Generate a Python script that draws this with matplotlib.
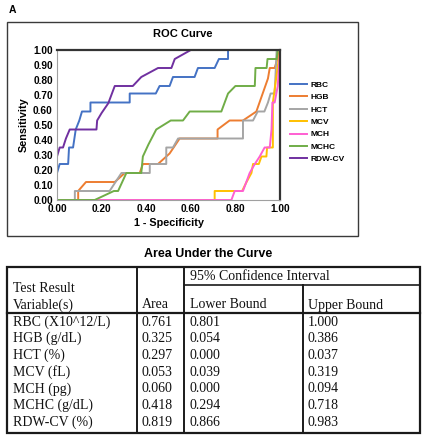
import matplotlib
matplotlib.use("Agg")
import matplotlib.pyplot as plt
from matplotlib.patches import Rectangle

# ROC curve points (1 - specificity, sensitivity)
rbc_x = [0, 0, 0.012, 0.05, 0.054, 0.072, 0.084, 0.10, 0.112, 0.15, 0.15, 0.326, 0.326, 0.443, 0.46, 0.505, 0.52, 0.617, 0.632, 0.707, 0.726, 0.767, 0.767, 1.0]
rbc_y = [0, 0.18, 0.24, 0.24, 0.35, 0.35, 0.47, 0.53, 0.59, 0.59, 0.65, 0.65, 0.71, 0.71, 0.76, 0.76, 0.82, 0.82, 0.88, 0.88, 0.94, 0.94, 1.0, 1.0]

hgb_x = [0, 0.095, 0.095, 0.13, 0.259, 0.304, 0.371, 0.385, 0.453, 0.505, 0.55, 0.72, 0.72, 0.774, 0.834, 0.894, 0.946, 0.954, 0.976, 1.0]
hgb_y = [0, 0, 0.06, 0.12, 0.12, 0.18, 0.18, 0.24, 0.24, 0.31, 0.41, 0.41, 0.47, 0.53, 0.53, 0.59, 0.81, 0.88, 0.88, 1.0]

hct_x = [0, 0.08, 0.08, 0.236, 0.289, 0.416, 0.416, 0.49, 0.49, 0.52, 0.543, 0.834, 0.834, 0.879, 0.90, 0.93, 0.946, 0.958, 0.976, 0.985, 1.0]
hct_y = [0, 0, 0.06, 0.06, 0.18, 0.18, 0.24, 0.24, 0.35, 0.35, 0.41, 0.41, 0.53, 0.53, 0.59, 0.59, 0.65, 0.71, 0.71, 1.0, 1.0]

mcv_x = [0, 0.707, 0.707, 0.83, 0.85, 0.872, 0.879, 0.905, 0.917, 0.939, 0.942, 0.968, 0.968, 1.0]
mcv_y = [0, 0, 0.06, 0.06, 0.12, 0.18, 0.24, 0.24, 0.29, 0.29, 0.35, 0.35, 0.65, 1.0]

mch_x = [0, 0.782, 0.797, 0.834, 0.864, 0.887, 0.909, 0.931, 0.954, 0.962, 0.966, 0.976, 0.99, 1.0]
mch_y = [0, 0, 0.06, 0.06, 0.18, 0.24, 0.29, 0.35, 0.35, 0.47, 0.65, 0.65, 0.76, 1.0]

mchc_x = [0, 0.169, 0.255, 0.274, 0.311, 0.378, 0.385, 0.41, 0.445, 0.51, 0.565, 0.595, 0.737, 0.767, 0.80, 0.887, 0.89, 0.94, 0.944, 0.985, 0.99, 1.0]
mchc_y = [0, 0, 0.06, 0.06, 0.18, 0.18, 0.29, 0.37, 0.47, 0.53, 0.53, 0.59, 0.59, 0.71, 0.76, 0.76, 0.88, 0.88, 0.94, 0.94, 1.0, 1.0]

rdw_x = [0, 0, 0.012, 0.027, 0.04, 0.057, 0.177, 0.18, 0.20, 0.23, 0.259, 0.34, 0.378, 0.453, 0.513, 0.528, 0.60, 1.0]
rdw_y = [0, 0.29, 0.35, 0.35, 0.41, 0.47, 0.47, 0.53, 0.58, 0.645, 0.76, 0.76, 0.82, 0.88, 0.88, 0.94, 1.0, 1.0]

names = ['RBC', 'HGB', 'HCT', 'MCV', 'MCH', 'MCHC', 'RDW-CV']
colors = ['#4472C4', '#ED7D31', '#A5A5A5', '#FFC000', '#FF5FD2', '#70AD47', '#7030A0']
curves = [(rbc_x, rbc_y), (hgb_x, hgb_y), (hct_x, hct_y), (mcv_x, mcv_y),
          (mch_x, mch_y), (mchc_x, mchc_y), (rdw_x, rdw_y)]

# AUC table
variables = ['RBC (X10^12/L)', 'HGB (g/dL)', 'HCT (%)', 'MCV (fL)', 'MCH (pg)', 'MCHC (g/dL)', 'RDW-CV (%)']
area = ['0.761', '0.325', '0.297', '0.053', '0.060', '0.418', '0.819']
lower = ['0.801', '0.054', '0.000', '0.039', '0.000', '0.294', '0.866']
upper = ['1.000', '0.386', '0.037', '0.319', '0.094', '0.718', '0.983']

W, H = 425, 440
fig = plt.figure(figsize=(W / 100, H / 100), dpi=100)
sans = 'Liberation Sans'
serif = 'Liberation Serif'

# overlay in pixel coordinates for the box, table and labels
ov = fig.add_axes([0, 0, 1, 1])
ov.set_xlim(0, W)
ov.set_ylim(H, 0)
ov.axis('off')

ov.text(9, 10, 'A', fontsize=7.5, fontweight='bold', family=sans, va='center')
ov.add_patch(Rectangle((7, 22), 351, 214, fill=False, ec='#3a3a3a', lw=1.0))
ov.text(183, 34, 'ROC Curve', fontsize=8, fontweight='bold', family=sans, ha='center', va='center')

# ROC axes
ax = fig.add_axes([57 / W, 1 - 200 / H, 223 / W, 150 / H])
for (xs, ys), nm, c in zip(curves, names, colors):
    ax.plot(xs, ys, color=c, lw=1.4, label=nm)
ax.set_xlim(0, 1)
ax.set_ylim(0, 1)
ax.set_xticks([0, 0.2, 0.4, 0.6, 0.8, 1.0])
ax.set_yticks([i / 10 for i in range(11)])
ax.xaxis.set_major_formatter(matplotlib.ticker.FormatStrFormatter('%.2f'))
ax.yaxis.set_major_formatter(matplotlib.ticker.FormatStrFormatter('%.2f'))
ax.tick_params(length=0, labelsize=7.3, pad=3)
for lab in ax.get_xticklabels() + ax.get_yticklabels():
    lab.set_fontweight('bold')
    lab.set_family(sans)
ax.set_xlabel('1 - Specificity', fontsize=7.8, fontweight='bold', family=sans, labelpad=3)
ax.set_ylabel('Sensitivity', fontsize=7.8, fontweight='bold', family=sans, labelpad=3)
ax.spines['left'].set_color('#a0a0a0')
ax.spines['bottom'].set_color('#a0a0a0')
ax.spines['top'].set_color('#333333')
ax.spines['right'].set_color('#333333')
ax.spines['top'].set_linewidth(1.6)
ax.spines['right'].set_linewidth(1.6)

leg = ax.legend(loc='upper left', bbox_to_anchor=(290 / W, 1 - 81 / H), bbox_transform=fig.transFigure,
                frameon=False, prop={'family': sans, 'weight': 'bold', 'size': 6},
                handlelength=2.0, handletextpad=0.5, labelspacing=0.55, borderpad=0, borderaxespad=0)

# table
tx0, tx1, ty0, ty1 = 7, 420, 267, 433
c1, c2, c3 = 137, 184, 303
ov.text(208, 254, 'Area Under the Curve', fontsize=9, fontweight='bold', family=sans, ha='center', va='center')
ov.add_patch(Rectangle((tx0, ty0), tx1 - tx0, ty1 - ty0, fill=False, ec='#1a1a1a', lw=1.6))
ov.plot([c1, c1], [ty0, ty1], color='#1a1a1a', lw=1.4)
ov.plot([c2, c2], [ty0, ty1], color='#1a1a1a', lw=1.4)
ov.plot([c3, c3], [285, ty1], color='#1a1a1a', lw=1.4)
ov.plot([c2, tx1], [285, 285], color='#1a1a1a', lw=1.2)
ov.plot([tx0, tx1], [313, 313], color='#1a1a1a', lw=1.6)

tk = dict(fontsize=10, family=serif, va='center', color='#111111')
ov.text(c2 + 6, 277, '95% Confidence Interval', **tk)
ov.text(13, 288, 'Test Result', **tk)
ov.text(13, 305, 'Variable(s)', **tk)
ov.text(c1 + 5, 305, 'Area', **tk)
ov.text(c2 + 6, 305, 'Lower Bound', **tk)
ov.text(c3 + 5, 305, 'Upper Bound', **tk)
for i in range(len(variables)):
    y = 322 + i * 16.7
    ov.text(13, y, variables[i], **tk)
    ov.text(c1 + 5, y, area[i], **tk)
    ov.text(c2 + 6, y, lower[i], **tk)
    ov.text(c3 + 5, y, upper[i], **tk)

fig.savefig('out.png', dpi=100)
